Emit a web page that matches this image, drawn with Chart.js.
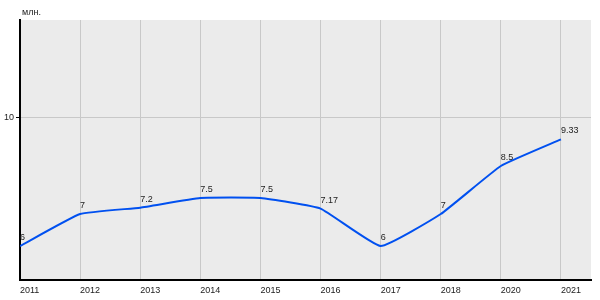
<!DOCTYPE html>
<html>
<head>
<meta charset="utf-8">
<script src="https://cdn.jsdelivr.net/npm/chart.js@4"></script>
<style>
  html, body { margin: 0; padding: 0; background: #fff; }
  #wrap { width: 600px; height: 300px; position: relative; }
</style>
</head>
<body>
<div id="wrap"><canvas id="c"></canvas></div>
<script>
const years = ['2011', '2012', '2013', '2014', '2015', '2016', '2017', '2018', '2020', '2021'];
const values = [6, 7, 7.2, 7.5, 7.5, 7.17, 6, 7, 8.5, 9.33];
const yTicks = [10];
const unitLabel = 'млн.';

const FONT = 'Liberation Sans, Arial, sans-serif';
const FSIZE = 9;

// gray plot background + unit label
const backdrop = {
    id: 'backdrop',
    beforeDraw(chart) {
        const { ctx, chartArea: a } = chart;
        ctx.save();
        ctx.fillStyle = '#ebebeb';
        ctx.fillRect(a.left, a.top, a.right - a.left, a.bottom - a.top);
        ctx.fillStyle = '#222';
        ctx.font = FSIZE + 'px ' + FONT;
        ctx.textBaseline = 'alphabetic';
        ctx.fillText(unitLabel, 22, 15);
        ctx.restore();
    }
};

// value labels above each point, left aligned
const pointLabels = {
    id: 'pointLabels',
    afterDatasetsDraw(chart) {
        const { ctx } = chart;
        const meta = chart.getDatasetMeta(0);
        ctx.save();
        ctx.fillStyle = '#222';
        ctx.font = FSIZE + 'px ' + FONT;
        ctx.textAlign = 'left';
        ctx.textBaseline = 'alphabetic';
        meta.data.forEach((pt, i) => {
            ctx.fillText(String(values[i]), pt.x, pt.y - 6);
        });
        ctx.restore();
    }
};

new Chart(document.getElementById('c'), {
    type: 'line',
    data: {
        datasets: [{
            data: values.map((v, i) => ({ x: i, y: v })),
            borderColor: '#0050f0',
            borderWidth: 2,
            pointRadius: 0,
            fill: false,
            tension: 0.12
        }]
    },
    options: {
        responsive: true,
        maintainAspectRatio: false,
        animation: false,
        layout: { padding: { top: 20, right: 9, left: 0, bottom: 0 } },
        plugins: { legend: { display: false }, tooltip: { enabled: false } },
        scales: {
            x: {
                type: 'linear',
                min: 0,
                max: 9.5,
                afterFit: s => { s.height = 20; },
                afterBuildTicks: s => { s.ticks = years.map((_, i) => ({ value: i })); },
                grid: { color: '#c8c8c8', drawTicks: false },
                border: { color: '#000', width: 2 },
                ticks: {
                    align: 'start',
                    padding: 5,
                    color: '#222',
                    font: { family: FONT, size: FSIZE },
                    callback: v => years[v]
                }
            },
            y: {
                min: 4.94,
                max: 13.06,
                afterFit: s => { s.width = 20; },
                afterBuildTicks: s => { s.ticks = yTicks.map(v => ({ value: v })); },
                grid: { color: '#c8c8c8', tickColor: '#000', tickLength: 4 },
                border: { color: '#000', width: 2 },
                ticks: {
                    padding: 2,
                    color: '#222',
                    font: { family: FONT, size: FSIZE },
                    callback: v => String(v)
                }
            }
        }
    },
    plugins: [backdrop, pointLabels]
});
</script>
</body>
</html>
